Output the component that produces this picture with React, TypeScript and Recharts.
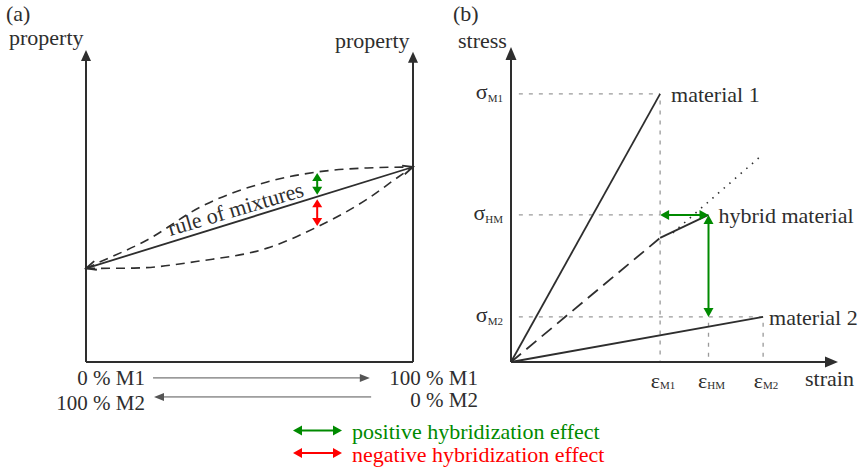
import React from 'react';
import { LineChart, Line, XAxis, YAxis, ReferenceLine, ReferenceDot } from 'recharts';

const FONT = '"Liberation Serif", "Times New Roman", serif';
const INK = '#2e2e2e';
const GREEN = '#008a00';
const RED = '#ff0000';
const GUIDE = '#9a9a9a';

// ---------- Panel (a): property vs composition (% M1) ----------
const ruleOfMixtures = [{ m1: 0, property: 30 }, { m1: 100, property: 62.5 }];
const positiveCurve = [
  { m1: 0, property: 30 }, { m1: 3.5, property: 31.7 }, { m1: 18.7, property: 39.1 },
  { m1: 35, property: 49.7 }, { m1: 55.4, property: 57.7 }, { m1: 70.7, property: 60.9 },
  { m1: 86, property: 62.2 }, { m1: 100, property: 62.5 },
];
const negativeCurve = [
  { m1: 0, property: 30 }, { m1: 14.6, property: 30.1 }, { m1: 35, property: 32.4 },
  { m1: 55.4, property: 36.5 }, { m1: 70.7, property: 43.3 }, { m1: 86, property: 52.2 },
  { m1: 95.5, property: 59.3 }, { m1: 100, property: 62.5 },
];
const effectComposition = 70.7;
const positiveEffect = [60.6, 53.6];
const negativeEffect = [52.2, 43.6];
const compositionArrows = [
  { from: 20.5, to: 86.8, level: -5.1 },
  { from: 87.2, to: 20.8, level: -11.2 },
];

// ---------- Panel (b): stress vs strain ----------
const strainTicks = [{ value: 45.6, sub: 'M1' }, { value: 60.4, sub: 'HM' }, { value: 77.1, sub: 'M2' }];
const stressTicks = [{ value: 14.3, sub: 'M2' }, { value: 46.7, sub: 'HM' }, { value: 85.1, sub: 'M1' }];
const material1 = [{ strain: 0, stress: 0 }, { strain: 45.6, stress: 85.1 }];
const material2 = [{ strain: 0, stress: 0 }, { strain: 77.1, stress: 14.3 }];
const hybridLinear = [{ strain: 0, stress: 0 }, { strain: 45.6, stress: 39.4 }];
const hybridAfterFailure = [{ strain: 45.6, stress: 39.4 }, { strain: 60.4, stress: 46.7 }];
const hybridExtrapolated = [{ strain: 49.5, stress: 41 }, { strain: 76.1, stress: 65.1 }];

type Head = 'filled' | 'open' | 'none';
interface ArrowStyle { color: string; width: number; start?: Head; end?: Head; len?: number; half?: number; dash?: string }

function arrowElements(x1: number, y1: number, x2: number, y2: number, s: ArrowStyle) {
  const len = s.len ?? 10;
  const half = s.half ?? 4.5;
  const L = Math.hypot(x2 - x1, y2 - y1) || 1;
  const ux = (x2 - x1) / L;
  const uy = (y2 - y1) / L;
  let sx = x1, sy = y1, ex = x2, ey = y2;
  if (s.start === 'filled') { sx += ux * len * 0.7; sy += uy * len * 0.7; }
  if (s.end === 'filled') { ex -= ux * len * 0.7; ey -= uy * len * 0.7; }
  const head = (tx: number, ty: number, dx: number, dy: number, kind: Head) => {
    const bx = tx - dx * len, by = ty - dy * len;
    const px = -dy * half, py = dx * half;
    const pts = `${bx + px},${by + py} ${tx},${ty} ${bx - px},${by - py}`;
    return kind === 'filled'
      ? <polygon points={pts} fill={s.color} stroke="none" />
      : <polyline points={pts} fill="none" stroke={s.color} strokeWidth={s.width} />;
  };
  return (
    <g>
      <line x1={sx} y1={sy} x2={ex} y2={ey} stroke={s.color} strokeWidth={s.width} strokeDasharray={s.dash} />
      {s.start && s.start !== 'none' && head(x1, y1, -ux, -uy, s.start)}
      {s.end && s.end !== 'none' && head(x2, y2, ux, uy, s.end)}
    </g>
  );
}
const arrowShape = (s: ArrowStyle) => (p: any) => arrowElements(p.x1, p.y1, p.x2, p.y2, s);

const StrainTick = (p: any) => {
  const t = strainTicks.find((k) => Math.abs(k.value - p.payload.value) < 1e-6);
  return (
    <text x={p.x + 3} y={p.y + 18} textAnchor="middle" fontFamily={FONT} fontSize={22} fill={INK}>
      ε<tspan fontSize={11} dy={1}>{t ? t.sub : ''}</tspan>
    </text>
  );
};
const StressTick = (p: any) => {
  const t = stressTicks.find((k) => Math.abs(k.value - p.payload.value) < 1e-6);
  return (
    <text x={p.x} y={p.y + 5} textAnchor="end" fontFamily={FONT} fontSize={22} fill={INK}>
      σ<tspan fontSize={11} dy={3}>{t ? t.sub : ''}</tspan>
    </text>
  );
};

const labelStyle = { fill: INK, fontSize: 22, fontFamily: FONT };

function PanelA() {
  return (
    <LineChart width={440} height={469} margin={{ top: 50, left: 86, right: 27, bottom: 107 }}>
      <XAxis type="number" dataKey="m1" domain={[0, 100]} hide />
      <YAxis type="number" dataKey="property" domain={[0, 100]} hide />
      <ReferenceLine segment={[{ x: 0, y: 0 }, { x: 100, y: 0 }]} ifOverflow="visible"
        shape={arrowShape({ color: INK, width: 2 })} />
      <ReferenceLine segment={[{ x: 0, y: 0 }, { x: 0, y: 100 }]} ifOverflow="visible"
        shape={arrowShape({ color: INK, width: 2, end: 'filled', len: 11, half: 5 })} />
      <ReferenceLine segment={[{ x: 100, y: 0 }, { x: 100, y: 99.4 }]} ifOverflow="visible"
        shape={arrowShape({ color: INK, width: 2, end: 'filled', len: 11, half: 5 })} />
      <Line data={positiveCurve} dataKey="property" type="monotone" stroke={INK} strokeWidth={1.6}
        strokeDasharray="9 6" dot={false} activeDot={false} isAnimationActive={false} />
      <Line data={negativeCurve} dataKey="property" type="monotone" stroke={INK} strokeWidth={1.6}
        strokeDasharray="9 6" dot={false} activeDot={false} isAnimationActive={false} />
      <ReferenceLine
        segment={[{ x: ruleOfMixtures[0].m1, y: ruleOfMixtures[0].property }, { x: ruleOfMixtures[1].m1, y: ruleOfMixtures[1].property }]}
        ifOverflow="visible"
        shape={arrowShape({ color: INK, width: 1.8, start: 'open', end: 'open', len: 10, half: 4.5 })} />
      <ReferenceLine segment={[{ x: effectComposition, y: positiveEffect[0] }, { x: effectComposition, y: positiveEffect[1] }]}
        ifOverflow="visible"
        shape={arrowShape({ color: GREEN, width: 2, start: 'filled', end: 'filled', len: 8, half: 5 })} />
      <ReferenceLine segment={[{ x: effectComposition, y: negativeEffect[0] }, { x: effectComposition, y: negativeEffect[1] }]}
        ifOverflow="visible"
        shape={arrowShape({ color: RED, width: 2, start: 'filled', end: 'filled', len: 8, half: 5 })} />
      {compositionArrows.map((a, i) => (
        <ReferenceLine key={i} segment={[{ x: a.from, y: a.level }, { x: a.to, y: a.level }]} ifOverflow="visible"
          shape={arrowShape({ color: '#555', width: 1, end: 'filled', len: 10, half: 4 })} />
      ))}
    </LineChart>
  );
}

function PanelB() {
  return (
    <LineChart width={423} height={469} margin={{ top: 47, left: 11, right: 25, bottom: 77 }}>
      <XAxis type="number" dataKey="strain" domain={[0, 100]} ticks={strainTicks.map((t) => t.value)}
        tick={(p: any) => <StrainTick {...p} />} axisLine={false} tickLine={false} height={30} interval={0} />
      <YAxis type="number" dataKey="stress" domain={[0, 100]} ticks={stressTicks.map((t) => t.value)}
        tick={(p: any) => <StressTick {...p} />} axisLine={false} tickLine={false} width={60} interval={0} />
      {/* guides */}
      {stressTicks.map((t) => {
        const endStrain = t.sub === 'M2' ? strainTicks[2].value : strainTicks[0].value;
        return (
          <ReferenceLine key={'h' + t.sub} segment={[{ x: 2.4, y: t.value }, { x: endStrain, y: t.value }]} ifOverflow="visible"
            stroke={GUIDE} strokeWidth={1.3} strokeDasharray="4 6" />
        );
      })}
      <ReferenceLine segment={[{ x: strainTicks[0].value, y: 83 }, { x: strainTicks[0].value, y: 0 }]} ifOverflow="visible"
        stroke={GUIDE} strokeWidth={1.3} strokeDasharray="4 6" />
      <ReferenceLine segment={[{ x: strainTicks[1].value, y: 12.5 }, { x: strainTicks[1].value, y: 0 }]} ifOverflow="visible"
        stroke={GUIDE} strokeWidth={1.3} strokeDasharray="4 6" />
      <ReferenceLine segment={[{ x: strainTicks[2].value, y: 12.5 }, { x: strainTicks[2].value, y: 0 }]} ifOverflow="visible"
        stroke={GUIDE} strokeWidth={1.3} strokeDasharray="4 6" />
      {/* axes */}
      <ReferenceLine segment={[{ x: 0, y: 0 }, { x: 0, y: 100 }]} ifOverflow="visible"
        shape={arrowShape({ color: INK, width: 2, end: 'filled', len: 13, half: 5.5 })} />
      <ReferenceLine segment={[{ x: 0, y: 0 }, { x: 100, y: 0 }]} ifOverflow="visible"
        shape={arrowShape({ color: INK, width: 2, end: 'filled', len: 13, half: 5.5 })} />
      {/* curves */}
      <Line data={material1} dataKey="stress" type="linear" stroke={INK} strokeWidth={1.8} dot={false} activeDot={false} isAnimationActive={false} />
      <Line data={material2} dataKey="stress" type="linear" stroke={INK} strokeWidth={1.8} dot={false} activeDot={false} isAnimationActive={false} />
      <Line data={hybridLinear} dataKey="stress" type="linear" stroke={INK} strokeWidth={1.8} strokeDasharray="13 7" dot={false} activeDot={false} isAnimationActive={false} />
      <Line data={hybridAfterFailure} dataKey="stress" type="linear" stroke={INK} strokeWidth={1.8} dot={false} activeDot={false} isAnimationActive={false} />
      <Line data={hybridExtrapolated} dataKey="stress" type="linear" stroke={INK} strokeWidth={1.6} strokeDasharray="1.5 6" dot={false} activeDot={false} isAnimationActive={false} />
      {/* hybrid effect arrows */}
      <ReferenceLine segment={[{ x: strainTicks[0].value, y: stressTicks[1].value }, { x: strainTicks[1].value, y: stressTicks[1].value }]}
        ifOverflow="visible" shape={arrowShape({ color: GREEN, width: 2, start: 'filled', end: 'filled', len: 9, half: 5 })} />
      <ReferenceLine segment={[{ x: strainTicks[1].value, y: stressTicks[1].value }, { x: strainTicks[1].value, y: stressTicks[0].value }]}
        ifOverflow="visible" shape={arrowShape({ color: GREEN, width: 2, start: 'filled', end: 'filled', len: 9, half: 5 })} />
      {/* labels */}
      <ReferenceDot x={material1[1].strain} y={material1[1].stress} r={0} ifOverflow="visible"
        label={{ value: 'material 1', position: 'right', offset: 11, ...labelStyle }} />
      <ReferenceDot x={hybridAfterFailure[1].strain} y={hybridAfterFailure[1].stress} r={0} ifOverflow="visible"
        label={{ value: 'hybrid material', position: 'right', offset: 10, ...labelStyle }} />
      <ReferenceDot x={material2[1].strain} y={material2[1].stress} r={0} ifOverflow="visible"
        label={{ value: 'material 2', position: 'right', offset: 6, ...labelStyle }} />
    </LineChart>
  );
}

function Overlay() {
  const t = { fontFamily: FONT, fontSize: 22, fill: INK };
  const b = { fontFamily: FONT, fontSize: 21, fill: INK };
  return (
    <svg width={863} height={469} style={{ position: 'absolute', left: 0, top: 0, pointerEvents: 'none' }}>
      <text x={6} y={21} {...t}>(a)</text>
      <text x={9} y={45} {...t}>property</text>
      <text x={335} y={48} {...t}>property</text>
      <text x={453} y={21} {...t}>(b)</text>
      <text x={458} y={48} {...t}>stress</text>
      <text x={805} y={386} {...t}>strain</text>
      <text x={145} y={385} textAnchor="end" {...b}>0 % M1</text>
      <text x={145} y={410} textAnchor="end" {...b}>100 % M2</text>
      <text x={478} y={385} textAnchor="end" {...b}>100 % M1</text>
      <text x={478} y={407} textAnchor="end" {...b}>0 % M2</text>
      <text x={237.7} y={216} textAnchor="middle" transform="rotate(-16.5 237.7 216)" {...t}>rule of mixtures</text>
      {arrowElements(293, 430.5, 342, 430.5, { color: GREEN, width: 2, start: 'filled', end: 'filled', len: 9, half: 5 })}
      {arrowElements(293, 453, 342, 453, { color: RED, width: 2, start: 'filled', end: 'filled', len: 9, half: 5 })}
      <text x={352} y={439} {...t} fill={GREEN}>positive hybridization effect</text>
      <text x={352} y={462} {...t} fill={RED}>negative hybridization effect</text>
    </svg>
  );
}

export default function App() {
  return (
    <div style={{ position: 'absolute', left: 0, top: 0, width: 863, height: 469, background: '#fff' }}>
      <div style={{ position: 'absolute', left: 0, top: 0 }}><PanelA /></div>
      <div style={{ position: 'absolute', left: 440, top: 0 }}><PanelB /></div>
      <Overlay />
    </div>
  );
}
